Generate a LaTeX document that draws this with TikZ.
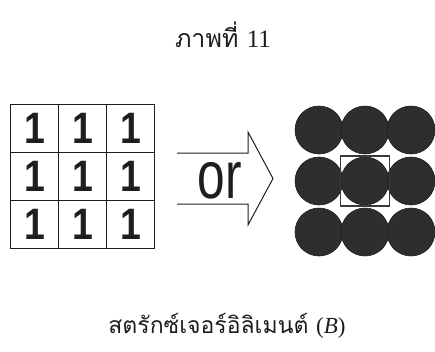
\documentclass[tikz,border=0pt]{standalone}
\usepackage{fontspec}
\setmainfont{Liberation Serif}
\setsansfont{Liberation Sans}
\newfontfamily\thaifont[Script=Thai]{Loma}
\usetikzlibrary{positioning,calc}
\definecolor{seInk}{HTML}{1E1E1E}
\definecolor{seDisc}{HTML}{2E2E2E}
\definecolor{seFrame}{HTML}{3A3A3A}
\tikzset{
  se-cell/.style={
    draw=seInk, line width=1.3pt, anchor=north west,
    minimum width=48pt, minimum height=48pt, inner sep=0pt,
    font=\sffamily\fontsize{44}{44}\selectfont, text=seInk
  },
  se-disc/.style={circle, fill=seDisc, draw=seInk, line width=0.6pt,
    minimum size=48pt, inner sep=0pt},
  se-frame/.style={draw=seFrame, line width=1.4pt, fill=none,
    minimum width=49pt, minimum height=50pt, inner sep=0pt},
  se-arrow/.style={draw=seInk, line width=1pt, line join=miter},
  se-word/.style={font=\sffamily\fontsize{67}{67}\selectfont, text=seInk,
    inner sep=0pt},
  se-title/.style={font=\fontsize{25}{28}\selectfont, text=seInk},
  se-caption/.style={font=\fontsize{23}{26}\selectfont, text=seInk}
}
\begin{document}
\begin{tikzpicture}[x=1pt, y=-1pt]
\useasboundingbox (0,0) rectangle (435,351);

% title
\node[se-title] (title) at (223,35) {\thaifont ภาพที่ \rmfamily 11};

% grid of ones
\foreach \r in {0,1,2}
  \foreach \c in {0,1,2}
    \node[se-cell] (cell\r\c) at (10+48*\c, 104+48*\r)
      {\scalebox{0.85}[1]{\bfseries 1}};

% arrow with or
\node[se-word] (orword) at (220,181) {\scalebox{0.74}[1]{or}};
\coordinate (tailtop) at (177,153);
\coordinate (tailbot) at (177,204);
\coordinate (tip) at (273,178.5);
\draw[se-arrow] (tailtop) -- (248,153) -- (248,132) -- (tip)
  -- (248,225) -- (248,204) -- (tailbot);

% discs
\foreach \r in {0,1,2}
  \foreach \c in {0,1,2}
    \node[se-disc] (disc\r\c) at (319+46*\c, 130+51*\r) {};
\node[se-frame] (origin) at (disc11) {};

% caption
\node[se-caption] (caption) at (227,326)
  {\thaifont สตรักซ์เจอร์อิลิเมนต์ \rmfamily(\textit{B})};
\end{tikzpicture}
\end{document}
